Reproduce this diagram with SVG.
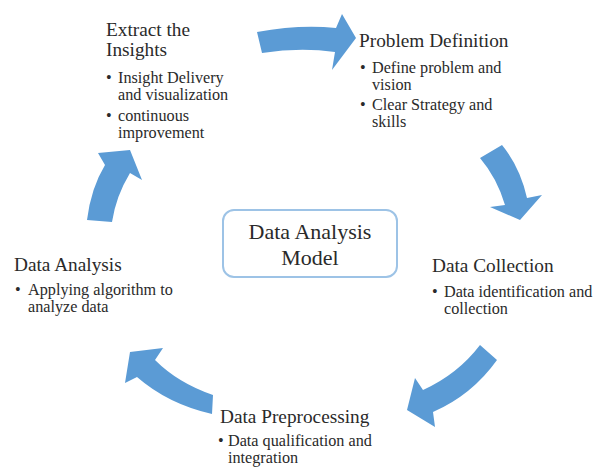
<svg xmlns="http://www.w3.org/2000/svg" width="598" height="469" viewBox="0 0 598 469">
<style>
.t{font-family:"Liberation Serif","DejaVu Serif",serif;fill:#2a2a2a;font-size:19.3px}
.b{font-family:"Liberation Serif","DejaVu Serif",serif;fill:#2a2a2a;font-size:16.2px}
.c{font-family:"Liberation Serif","DejaVu Serif",serif;fill:#2a2a2a;font-size:22px;text-anchor:middle}
.arr{fill:#5b9bd5}
</style>
<rect width="598" height="469" fill="#ffffff"/>
<g id="connectors">
<path class="arr" d="M257,32 Q300,24 336,28 L342,14 L356,38 L332,70 L335,52 Q300,47 262,53 Z"/>
<path class="arr" d="M480,158 L502,145 Q520,167 527,198 L542,195 L520,220 L490,207 L505,205 Q497,178 480,158 Z"/>
<path class="arr" d="M480,345 L497,360 Q472,395 433,412 L435,427 L407,410 L415,378 L423,390 Q458,374 480,345 Z"/>
<path class="arr" d="M213,395 Q178,383 155,360 L163,348 L130,352 L125,383 L137,377 Q168,404 212,414 Z"/>
<path class="arr" d="M87,220 Q91,188 105,165 L98,153 L130,150 L142,180 L130,173 Q116,196 112,222 Z"/>
</g>
<g id="center">
<rect x="223" y="210" width="174" height="67" rx="11" fill="#ffffff" stroke="#9dc3e6" stroke-width="2"/>
<text class="c" x="310" y="239">Data Analysis</text>
<text class="c" x="310" y="265">Model</text>
</g>
<g id="extract">
<text class="t" x="106" y="36">Extract the</text>
<text class="t" x="106" y="56">Insights</text>
<text class="b" x="106" y="83">•</text>
<text class="b" x="118" y="83">Insight Delivery</text>
<text class="b" x="118" y="100">and visualization</text>
<text class="b" x="106" y="121">•</text>
<text class="b" x="118" y="121">continuous</text>
<text class="b" x="118" y="138">improvement</text>
</g>
<g id="problem">
<text class="t" x="359" y="47">Problem Definition</text>
<text class="b" x="360" y="73">•</text>
<text class="b" x="372" y="73">Define problem and</text>
<text class="b" x="372" y="90">vision</text>
<text class="b" x="360" y="110">•</text>
<text class="b" x="372" y="110">Clear Strategy and</text>
<text class="b" x="372" y="127">skills</text>
</g>
<g id="analysis">
<text class="t" x="14" y="271">Data Analysis</text>
<text class="b" x="15" y="295">•</text>
<text class="b" x="28" y="295">Applying algorithm to</text>
<text class="b" x="28" y="312">analyze data</text>
</g>
<g id="collection">
<text class="t" x="432" y="272">Data Collection</text>
<text class="b" x="432" y="297">•</text>
<text class="b" x="444" y="297">Data identification and</text>
<text class="b" x="444" y="314">collection</text>
</g>
<g id="preprocessing">
<text class="t" x="220" y="423">Data Preprocessing</text>
<text class="b" x="218" y="446">•</text>
<text class="b" x="228" y="446">Data qualification  and</text>
<text class="b" x="228" y="463">integration</text>
</g>
</svg>
